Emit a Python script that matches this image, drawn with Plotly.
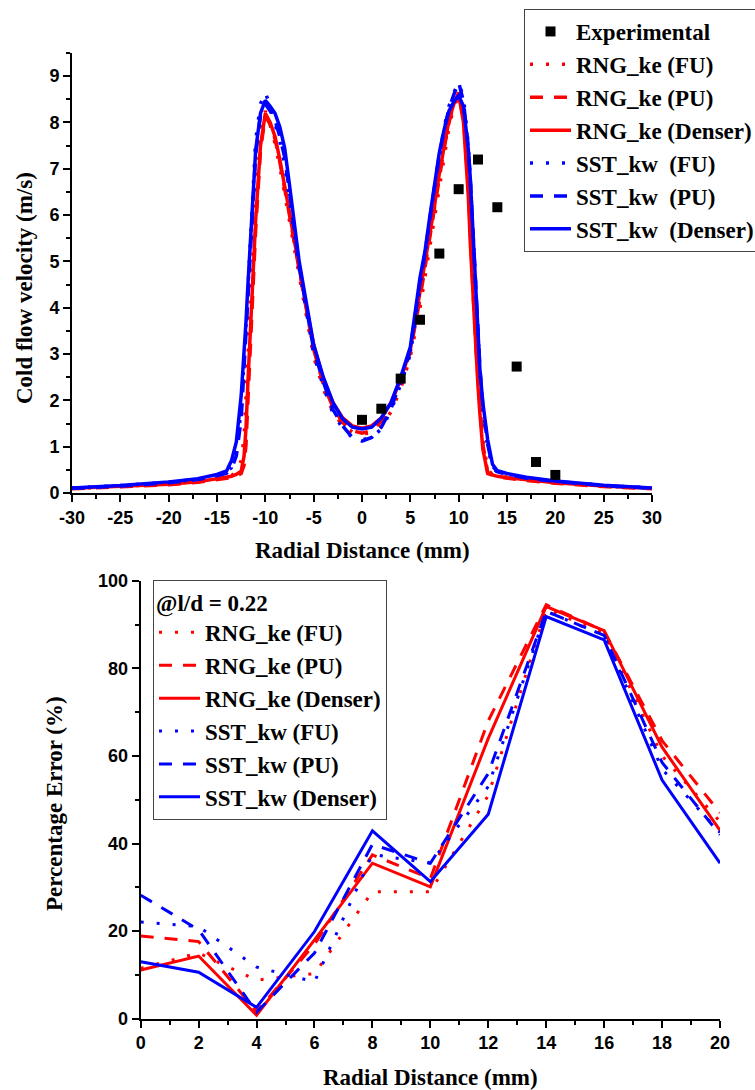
import plotly.graph_objects as go

# ---------------- Top chart data: cold flow velocity profiles ----------------
radial_profile = [-30, -25, -20, -17, -15, -14, -13.5, -13, -12.5, -12.2, -12, -11.8, -11.5, -11.2, -11,
                  -10.5, -10, -9.5, -9, -8.5, -8, -7.5, -7, -6.5, -6, -5, -4, -3, -2, -1, 0, 1, 2, 3, 4,
                  5, 6, 6.5, 7, 7.5, 8, 8.5, 9, 9.5, 10, 10.5, 11, 11.2, 11.5, 11.8, 12, 12.2, 12.5, 13,
                  13.5, 14, 15, 17, 20, 25, 30]

rng_fu_vel = [0.10, 0.14, 0.20, 0.25, 0.31, 0.35, 0.38, 0.45, 0.70, 1.20, 1.90, 2.90, 4.30, 5.50, 6.30,
              7.70, 8.25, 7.95, 7.55, 7.05, 6.45, 5.85, 5.25, 4.65, 4.05, 2.95, 2.25, 1.75, 1.45, 1.32, 1.28,
              1.30, 1.45, 1.75, 2.25, 2.95, 4.00, 4.65, 5.30, 6.00, 6.70, 7.35, 7.90, 8.35, 8.55, 8.20, 6.90,
              6.00, 4.60, 3.30, 2.60, 1.95, 1.15, 0.50, 0.40, 0.37, 0.34, 0.29, 0.23, 0.15, 0.10]

rng_pu_vel = [0.09, 0.13, 0.18, 0.23, 0.28, 0.31, 0.33, 0.37, 0.42, 0.60, 1.05, 2.00, 3.50, 4.80, 5.70,
              7.40, 8.15, 7.95, 7.65, 7.15, 6.60, 6.00, 5.40, 4.80, 4.20, 3.10, 2.35, 1.85, 1.52, 1.35, 1.29,
              1.35, 1.55, 1.90, 2.40, 3.05, 4.20, 4.85, 5.50, 6.15, 6.85, 7.45, 8.00, 8.40, 8.65, 8.10, 6.60,
              5.60, 4.30, 3.10, 2.45, 1.85, 1.05, 0.45, 0.38, 0.35, 0.32, 0.27, 0.21, 0.14, 0.09]

rng_denser_vel = [0.10, 0.14, 0.19, 0.24, 0.30, 0.33, 0.36, 0.40, 0.47, 0.80, 1.40, 2.40, 3.80, 5.00, 5.90,
                  7.50, 8.20, 8.00, 7.70, 7.20, 6.65, 6.05, 5.45, 4.85, 4.30, 3.20, 2.45, 1.95, 1.62, 1.45, 1.40,
                  1.45, 1.62, 1.95, 2.45, 3.10, 4.30, 4.90, 5.55, 6.20, 6.90, 7.50, 8.05, 8.40, 8.60, 8.00, 6.40,
                  5.40, 4.10, 2.90, 2.30, 1.70, 0.95, 0.42, 0.38, 0.36, 0.33, 0.28, 0.22, 0.15, 0.10]

sst_fu_vel = [0.11, 0.16, 0.23, 0.30, 0.38, 0.45, 0.55, 0.90, 1.80, 2.80, 3.50, 4.40, 5.60, 6.80, 7.60,
              8.40, 8.65, 8.35, 8.00, 7.60, 7.10, 6.40, 5.60, 4.85, 4.20, 3.00, 2.30, 1.72, 1.40, 1.20, 1.15,
              1.20, 1.38, 1.78, 2.35, 3.00, 4.45, 5.10, 5.85, 6.60, 7.30, 7.90, 8.35, 8.65, 8.85, 8.55, 7.50,
              6.80, 5.60, 4.30, 3.40, 2.60, 1.85, 1.00, 0.55, 0.45, 0.41, 0.33, 0.25, 0.16, 0.11]

sst_pu_vel = [0.10, 0.15, 0.22, 0.29, 0.37, 0.43, 0.52, 0.80, 1.60, 2.60, 3.30, 4.20, 5.40, 6.50, 7.30,
              8.15, 8.40, 8.25, 8.05, 7.70, 7.25, 6.50, 5.65, 4.90, 4.30, 3.10, 2.40, 1.80, 1.45, 1.20, 1.12,
              1.20, 1.42, 1.82, 2.40, 3.10, 4.55, 5.15, 5.90, 6.60, 7.30, 7.85, 8.30, 8.60, 8.87, 8.45, 7.45,
              6.80, 5.60, 4.30, 3.45, 2.70, 1.90, 1.05, 0.58, 0.46, 0.40, 0.32, 0.25, 0.16, 0.10]

sst_denser_vel = [0.11, 0.16, 0.24, 0.31, 0.40, 0.48, 0.70, 1.10, 2.10, 3.00, 3.70, 4.50, 5.50, 6.60, 7.40,
                  8.20, 8.48, 8.35, 8.20, 7.90, 7.45, 6.65, 5.75, 5.00, 4.40, 3.20, 2.50, 1.95, 1.60, 1.42, 1.38,
                  1.42, 1.62, 1.95, 2.50, 3.15, 4.65, 5.20, 5.95, 6.65, 7.35, 7.85, 8.25, 8.45, 8.58, 8.35, 7.42,
                  6.80, 5.60, 4.30, 3.40, 2.66, 1.95, 1.15, 0.62, 0.48, 0.42, 0.34, 0.26, 0.17, 0.11]

exp_radial = [0, 2, 4, 6, 8, 10, 12, 14, 16, 18, 20]
exp_vel = [1.58, 1.82, 2.47, 3.74, 5.17, 6.56, 7.20, 6.17, 2.73, 0.67, 0.39]

top_x_tickvals = [-30, -25, -20, -15, -10, -5, 0, 5, 10, 15, 20, 25, 30]
top_x_ticktext = ["-30", "-25", "-20", "-15", "-10", "-5", "0", "5", "10", "15", "20", "25", "30"]

# ---------------- Bottom chart data: percentage error ----------------
err_radial = [0, 2, 4, 6, 8, 10, 12, 14, 16, 18, 20]
rng_fu_err = [11.5, 15.0, 8.8, 10.3, 29.0, 29.0, 51.0, 93.5, 88.0, 60.0, 45.0]
rng_pu_err = [18.9, 17.6, 1.6, 17.0, 37.4, 32.0, 68.0, 94.5, 88.5, 63.5, 47.0]
rng_denser_err = [11.1, 14.3, 0.8, 18.0, 35.5, 30.1, 64.0, 94.1, 88.6, 62.0, 43.0]
sst_fu_err = [22.1, 21.0, 11.8, 8.4, 37.5, 35.5, 53.0, 93.0, 87.5, 57.0, 42.5]
sst_pu_err = [28.2, 20.3, 1.5, 15.0, 39.8, 35.5, 56.0, 93.0, 87.5, 58.5, 42.0]
sst_denser_err = [13.0, 10.6, 2.6, 19.9, 42.9, 31.3, 46.7, 91.8, 86.5, 54.5, 35.5]

top_names = ["RNG_ke (FU)", "RNG_ke (PU)", "RNG_ke (Denser)",
             "SST_kw\u00a0 (FU)", "SST_kw\u00a0 (PU)", "SST_kw\u00a0 (Denser)"]
bottom_names = ["RNG_ke (FU)", "RNG_ke (PU)", "RNG_ke (Denser)",
                "SST_kw (FU)", "SST_kw (PU)", "SST_kw (Denser)"]

W, H = 755, 1090
RED, BLUE = "#FF0000", "#0000FF"
DOT, DASH = "3px,13px", "13px,11px"
styles = [(RED, DOT), (RED, DASH), (RED, "solid"), (BLUE, DOT), (BLUE, DASH), (BLUE, "solid")]

fig = go.Figure()

top_series = [rng_fu_vel, rng_pu_vel, rng_denser_vel, sst_fu_vel, sst_pu_vel, sst_denser_vel]
for i, (ys, name, (col, dash)) in enumerate(zip(top_series, top_names, styles)):
    fig.add_trace(go.Scatter(x=radial_profile, y=ys, mode="lines", name=name,
                             line=dict(color=col, width=3.5, dash=dash),
                             xaxis="x", yaxis="y", legend="legend", legendrank=i + 2))
fig.add_trace(go.Scatter(x=exp_radial, y=exp_vel, mode="markers", name="Experimental",
                         marker=dict(symbol="square", size=10, color="black"),
                         xaxis="x", yaxis="y", legend="legend", legendrank=1))

bottom_series = [rng_fu_err, rng_pu_err, rng_denser_err, sst_fu_err, sst_pu_err, sst_denser_err]
for i, (ys, name, (col, dash)) in enumerate(zip(bottom_series, bottom_names, styles)):
    fig.add_trace(go.Scatter(x=err_radial, y=ys, mode="lines", name=name,
                             line=dict(color=col, width=3, dash=dash),
                             xaxis="x2", yaxis="y2", legend="legend2", legendrank=i + 1))

tickfont = dict(family="Liberation Sans", size=18, color="black", weight="bold")
serif = dict(family="Liberation Serif", size=23, color="black", weight="bold")


def ax(domain, rng, dtick, minor_dtick, anchor):
    return dict(domain=domain, range=rng, dtick=dtick, tick0=0, anchor=anchor,
                showgrid=False, zeroline=False, showline=True, linecolor="black", linewidth=2,
                ticks="outside", ticklen=7, tickwidth=2, tickcolor="black", tickfont=tickfont,
                minor=dict(dtick=minor_dtick, tick0=0, ticks="outside", ticklen=4, tickwidth=2,
                           tickcolor="black", showgrid=False),
                mirror=False, fixedrange=True)


# pixel geometry
tx0, tx1, ty0, ty1 = 72, 652, 53, 493
bx0, bx1, by0, by1 = 140.7, 720, 580.7, 1018.7

legend_common = dict(xanchor="left", yanchor="top", bgcolor="white", bordercolor="#444",
                     borderwidth=1, font=serif, tracegroupgap=0, traceorder="normal")

top_xaxis = ax([tx0 / W, tx1 / W], [-30, 30], 5, 2.5, "y")
top_xaxis.update(tickmode="array", tickvals=top_x_tickvals, ticktext=top_x_ticktext)

fig.update_layout(
    width=W, height=H, margin=dict(l=0, r=0, t=0, b=0, autoexpand=False),
    paper_bgcolor="white", plot_bgcolor="white",
    xaxis=top_xaxis,
    yaxis=ax([1 - ty1 / H, 1 - ty0 / H], [0, 9.5], 1, 0.5, "x"),
    xaxis2=ax([bx0 / W, bx1 / W], [0, 20], 2, 1, "y2"),
    yaxis2=ax([1 - by1 / H, 1 - by0 / H], [0, 100], 20, 10, "x2"),
    legend=dict(x=524 / W, y=1 - 9 / H, itemwidth=41, **legend_common),
    legend2=dict(x=153 / W, y=1 - 580 / H, itemwidth=41,
                 title=dict(text="@l/d = 0.22", font=serif), **legend_common),
    showlegend=True,
    annotations=[
        dict(text="Radial Distance (mm)", x=362 / W, y=1 - 551 / H, xref="paper", yref="paper",
             showarrow=False, font=serif, xanchor="center", yanchor="middle"),
        dict(text="Radial Distance (mm)", x=430 / W, y=1 - 1077 / H, xref="paper", yref="paper",
             showarrow=False, font=serif, xanchor="center", yanchor="middle"),
        dict(text="Cold flow velocity (m/s)", x=24 / W, y=1 - 288 / H, xref="paper", yref="paper",
             showarrow=False, font=serif, textangle=-90, xanchor="center", yanchor="middle"),
        dict(text="Percentage Error (%)", x=54 / W, y=1 - 804 / H, xref="paper", yref="paper",
             showarrow=False, font=serif, textangle=-90, xanchor="center", yanchor="middle"),
    ],
)

fig.write_html("out.html")
